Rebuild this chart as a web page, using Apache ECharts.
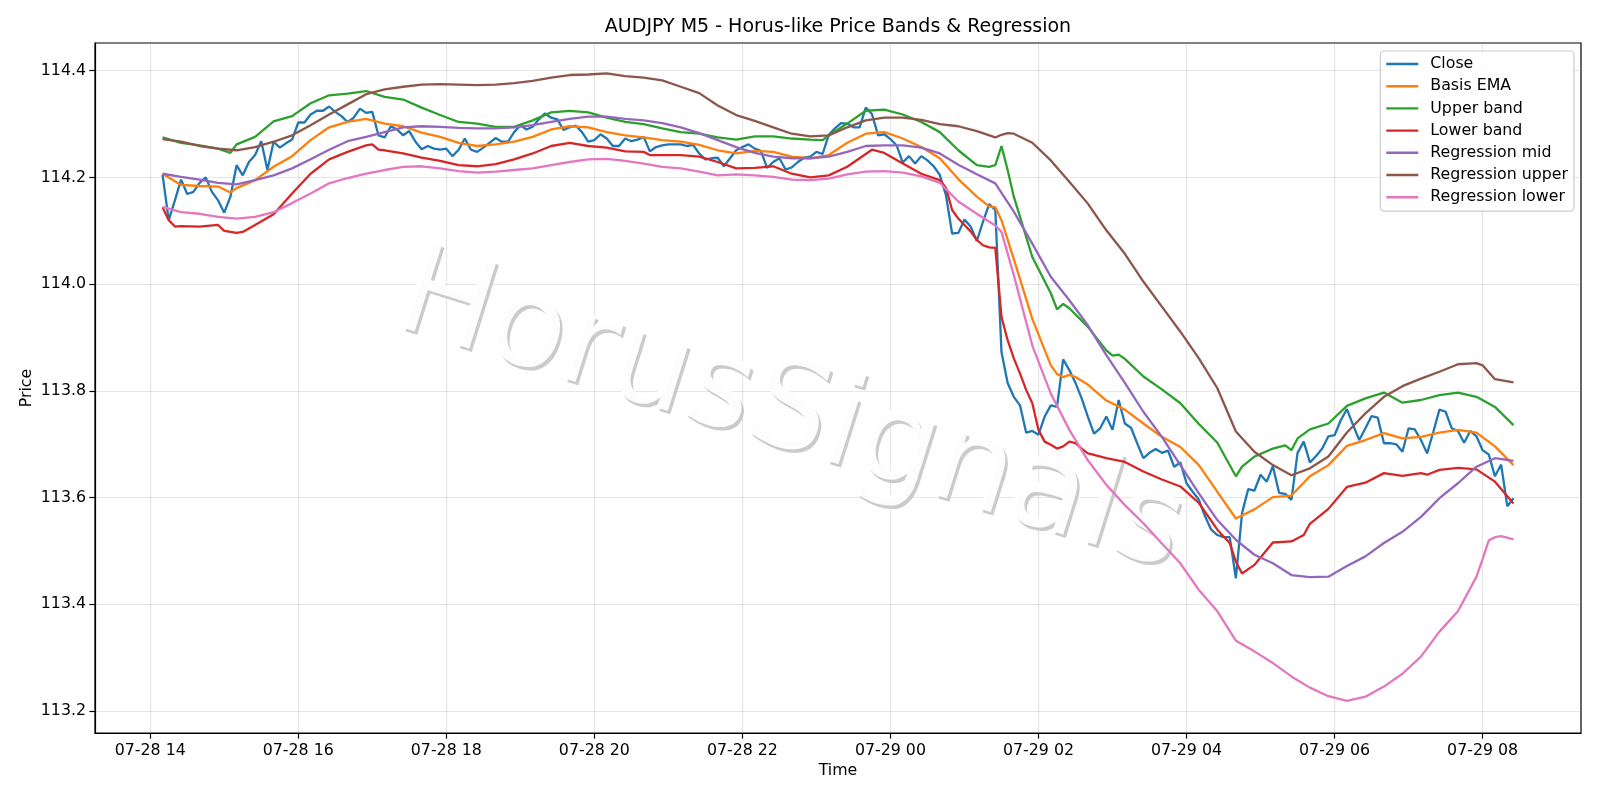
<!DOCTYPE html>
<html>
<head>
<meta charset="utf-8">
<script src="https://cdn.jsdelivr.net/npm/echarts@6/dist/echarts.min.js"></script>
<style>
html,body{margin:0;padding:0;background:#fff;}
#chart{width:1600px;height:800px;}
</style>
</head>
<body>
<div id="chart"></div>
<script>
// ---- time: 5-minute steps starting 07-28 14:10 (hours since 07-28 00:00) ----
const startHour = 14 + 10 / 60;
const stepHours = 5 / 60;

// ---- tick labels ----
const tickHours = [14, 16, 18, 20, 22, 24, 26, 28, 30, 32];
const tickLabels = ['07-28 14', '07-28 16', '07-28 18', '07-28 20', '07-28 22',
                    '07-29 00', '07-29 02', '07-29 04', '07-29 06', '07-29 08'];
const priceTicks = [113.2, 113.4, 113.6, 113.8, 114.0, 114.2, 114.4];

const seriesNames = ['Close', 'Basis EMA', 'Upper band', 'Lower band',
                     'Regression mid', 'Regression upper', 'Regression lower'];

// ---- Close: one value per 5-minute step ----
const closeValues = [
  114.205, 114.120, 114.157, 114.196, 114.169, 114.173, 114.190, 114.200, 114.173, 114.157,
  114.134, 114.164, 114.223, 114.204, 114.229, 114.242, 114.268, 114.214, 114.267, 114.256,
  114.264, 114.271, 114.303, 114.303, 114.318, 114.325, 114.325, 114.333, 114.323, 114.315,
  114.304, 114.312, 114.329, 114.321, 114.323, 114.279, 114.275, 114.296, 114.290, 114.279,
  114.287, 114.267, 114.253, 114.259, 114.254, 114.252, 114.254, 114.240, 114.252, 114.273,
  114.252, 114.248, 114.256, 114.265, 114.274, 114.267, 114.267, 114.285, 114.298, 114.290,
  114.295, 114.309, 114.320, 114.312, 114.309, 114.289, 114.294, 114.297, 114.285, 114.267,
  114.270, 114.281, 114.273, 114.259, 114.259, 114.273, 114.268, 114.271, 114.276, 114.249,
  114.257, 114.260, 114.262, 114.262, 114.262, 114.259, 114.261, 114.245, 114.234, 114.236,
  114.237, 114.221, 114.236, 114.251, 114.257, 114.262, 114.254, 114.250, 114.218, 114.229,
  114.236, 114.215, 114.219, 114.229, 114.237, 114.239, 114.248, 114.244, 114.280, 114.292,
  114.302, 114.301, 114.294, 114.294, 114.331, 114.319, 114.279, 114.281, 114.272, 114.260,
  114.228, 114.240, 114.226, 114.240, 114.232, 114.221, 114.205, 114.167, 114.095, 114.096,
  114.121, 114.108, 114.081, 114.117, 114.150, 114.139, 113.873, 113.815, 113.789, 113.773,
  113.722, 113.725, 113.718, 113.752, 113.773, 113.770, 113.859, 113.839, 113.815, 113.786,
  113.752, 113.720, 113.730, 113.752, 113.727, 113.783, 113.739, 113.731, 113.702, 113.674,
  113.684, 113.691, 113.684, 113.688, 113.658, 113.666, 113.627, 113.611, 113.596, 113.565,
  113.540, 113.530, 113.526, 113.526, 113.449, 113.571, 113.616, 113.613, 113.643, 113.630,
  113.659, 113.609, 113.607, 113.596, 113.684, 113.705, 113.666, 113.678, 113.692, 113.715,
  113.717, 113.745, 113.766, 113.736, 113.708, 113.730, 113.753, 113.750, 113.702, 113.702,
  113.700, 113.686, 113.730, 113.728, 113.708, 113.683, 113.723, 113.765, 113.761, 113.730,
  113.725, 113.703, 113.725, 113.715, 113.689, 113.681, 113.640, 113.662, 113.584, 113.599
];

// ---- smooth series, read as [step index, value] ----
const basisEma = [
  [0,114.207],[3,114.186],[6,114.184],[9,114.183],[11,114.172],[12,114.180],[15,114.195],
  [18,114.220],[21,114.240],[24,114.270],[27,114.294],[30,114.304],[33,114.310],[36,114.301],
  [39,114.296],[42,114.284],[45,114.276],[48,114.265],[51,114.259],[54,114.262],[57,114.267],
  [60,114.276],[63,114.290],[66,114.296],[69,114.294],[72,114.285],[75,114.279],[78,114.275],
  [81,114.270],[84,114.267],[87,114.261],[90,114.251],[93,114.245],[96,114.250],[99,114.248],
  [102,114.239],[105,114.236],[108,114.242],[111,114.265],[114,114.282],[117,114.285],
  [120,114.273],[123,114.257],[126,114.236],[129,114.197],[132,114.164],[134,114.146],
  [135,114.144],[136,114.120],[138,114.047],[141,113.935],[144,113.848],[145,113.832],
  [146,113.826],[147,113.830],[148,113.826],[150,113.812],[153,113.782],[156,113.765],
  [159,113.739],[162,113.714],[165,113.695],[168,113.661],[171,113.611],[174,113.561],
  [177,113.578],[180,113.601],[183,113.604],[186,113.640],[189,113.661],[192,113.697],
  [195,113.708],[198,113.721],[201,113.711],[204,113.714],[207,113.722],[210,113.727],
  [213,113.722],[216,113.696],[219,113.661]
];

const upperBand = [
  [0,114.275],[3,114.265],[6,114.260],[9,114.254],[11,114.246],[12,114.262],[15,114.276],
  [18,114.305],[21,114.315],[24,114.339],[27,114.354],[30,114.357],[33,114.362],[36,114.351],
  [39,114.346],[42,114.331],[45,114.317],[48,114.304],[51,114.301],[54,114.295],[57,114.295],
  [60,114.307],[63,114.322],[66,114.325],[69,114.322],[72,114.312],[75,114.304],[78,114.300],
  [81,114.292],[84,114.285],[87,114.282],[90,114.275],[93,114.271],[96,114.277],[99,114.277],
  [102,114.273],[105,114.271],[107,114.270],[108,114.279],[111,114.301],[114,114.325],
  [117,114.327],[120,114.318],[123,114.304],[126,114.285],[129,114.251],[132,114.223],
  [134,114.220],[135,114.223],[136,114.259],[137,114.214],[138,114.164],[141,114.051],
  [144,113.983],[145,113.953],[146,113.963],[147,113.955],[150,113.920],[153,113.876],
  [154,113.866],[155,113.868],[156,113.860],[159,113.827],[162,113.803],[165,113.777],
  [168,113.738],[171,113.703],[174,113.640],[175,113.658],[177,113.677],[180,113.692],
  [182,113.698],[183,113.689],[184,113.711],[186,113.728],[189,113.739],[192,113.772],
  [195,113.786],[198,113.797],[201,113.778],[204,113.783],[207,113.792],[210,113.797],
  [213,113.789],[216,113.770],[219,113.736]
];

const lowerBand = [
  [0,114.144],[1,114.120],[2,114.108],[3,114.109],[6,114.108],[9,114.111],[10,114.100],
  [11,114.098],[12,114.096],[13,114.098],[15,114.111],[18,114.131],[21,114.170],[24,114.207],
  [27,114.234],[30,114.248],[33,114.260],[34,114.262],[35,114.252],[36,114.251],[39,114.245],
  [42,114.237],[45,114.231],[48,114.223],[51,114.221],[54,114.225],[57,114.234],[60,114.245],
  [63,114.259],[66,114.265],[69,114.259],[72,114.256],[75,114.249],[78,114.248],[79,114.242],
  [81,114.242],[84,114.242],[87,114.239],[90,114.229],[93,114.217],[96,114.218],[99,114.221],
  [102,114.207],[105,114.200],[108,114.204],[111,114.220],[114,114.244],[115,114.252],
  [117,114.246],[120,114.226],[123,114.207],[126,114.195],[127,114.181],[128,114.139],
  [129,114.123],[130,114.111],[131,114.099],[132,114.083],[133,114.073],[134,114.069],
  [135,114.068],[136,113.939],[137,113.895],[138,113.861],[139,113.833],[140,113.802],
  [141,113.777],[142,113.727],[143,113.705],[144,113.699],[145,113.692],[146,113.696],
  [147,113.705],[148,113.702],[149,113.692],[150,113.683],[151,113.680],[153,113.674],
  [156,113.667],[159,113.649],[162,113.634],[165,113.621],[168,113.590],[171,113.540],
  [173,113.515],[174,113.480],[175,113.458],[177,113.474],[180,113.516],[183,113.518],
  [185,113.530],[186,113.551],[189,113.579],[192,113.620],[195,113.628],[198,113.646],
  [201,113.641],[204,113.646],[205,113.643],[207,113.652],[210,113.656],[213,113.653],
  [216,113.630],[219,113.589]
];

const regressionMid = [
  [0,114.207],[3,114.201],[6,114.196],[9,114.190],[12,114.187],[15,114.195],[18,114.204],
  [21,114.217],[24,114.234],[27,114.252],[30,114.268],[33,114.276],[36,114.285],[39,114.294],
  [42,114.296],[45,114.295],[48,114.293],[51,114.292],[54,114.292],[57,114.294],[60,114.298],
  [63,114.304],[66,114.310],[69,114.314],[72,114.314],[75,114.310],[78,114.307],[81,114.302],
  [84,114.294],[87,114.283],[90,114.270],[93,114.257],[96,114.246],[99,114.239],[102,114.236],
  [105,114.236],[108,114.239],[111,114.248],[114,114.259],[117,114.260],[120,114.260],
  [123,114.256],[126,114.245],[129,114.224],[132,114.206],[135,114.189],[138,114.136],
  [141,114.076],[144,114.014],[147,113.970],[150,113.923],[153,113.867],[156,113.815],
  [159,113.761],[162,113.714],[165,113.661],[168,113.608],[171,113.558],[174,113.521],
  [177,113.493],[180,113.477],[183,113.455],[186,113.451],[189,113.452],[192,113.472],
  [195,113.490],[198,113.515],[201,113.536],[204,113.564],[207,113.599],[210,113.627],
  [213,113.658],[216,113.674],[219,113.669]
];

const regressionUpper = [
  [0,114.272],[3,114.267],[6,114.259],[9,114.254],[12,114.251],[15,114.257],[18,114.267],
  [21,114.279],[24,114.298],[27,114.318],[30,114.337],[33,114.356],[36,114.365],[39,114.370],
  [42,114.374],[45,114.375],[48,114.374],[51,114.373],[54,114.374],[57,114.377],[60,114.381],
  [63,114.387],[66,114.392],[69,114.393],[72,114.395],[75,114.390],[78,114.387],[81,114.382],
  [84,114.370],[87,114.358],[90,114.335],[93,114.317],[96,114.306],[99,114.294],[102,114.282],
  [105,114.277],[108,114.279],[111,114.294],[114,114.307],[117,114.312],[120,114.312],
  [123,114.308],[126,114.300],[129,114.296],[132,114.287],[135,114.275],[136,114.280],
  [137,114.283],[138,114.282],[141,114.265],[144,114.232],[147,114.192],[150,114.151],
  [153,114.101],[156,114.057],[159,114.005],[162,113.958],[165,113.911],[168,113.861],
  [171,113.805],[174,113.724],[177,113.686],[180,113.661],[183,113.642],[186,113.655],
  [189,113.677],[192,113.722],[195,113.758],[198,113.789],[201,113.809],[204,113.823],
  [207,113.836],[210,113.850],[213,113.852],[214,113.848],[215,113.835],[216,113.822],
  [219,113.816]
];

const regressionLower = [
  [0,114.145],[3,114.135],[6,114.132],[9,114.126],[12,114.123],[15,114.126],[18,114.135],
  [21,114.152],[24,114.170],[27,114.189],[30,114.199],[33,114.207],[36,114.214],[39,114.220],
  [42,114.221],[45,114.217],[48,114.212],[51,114.209],[54,114.211],[57,114.214],[60,114.217],
  [63,114.223],[66,114.229],[69,114.234],[72,114.235],[75,114.231],[78,114.226],[81,114.220],
  [84,114.217],[87,114.211],[90,114.204],[93,114.206],[96,114.204],[99,114.201],[102,114.196],
  [105,114.195],[108,114.198],[111,114.206],[114,114.211],[117,114.212],[120,114.209],
  [123,114.202],[126,114.190],[129,114.155],[132,114.132],[135,114.110],[136,114.098],
  [138,114.017],[141,113.885],[144,113.795],[147,113.727],[150,113.670],[153,113.624],
  [156,113.586],[159,113.552],[162,113.514],[165,113.477],[168,113.427],[171,113.387],
  [174,113.332],[177,113.312],[180,113.290],[183,113.265],[186,113.244],[189,113.228],
  [192,113.219],[195,113.227],[198,113.246],[201,113.270],[204,113.302],[207,113.349],
  [210,113.387],[213,113.452],[214,113.485],[215,113.520],[216,113.526],[217,113.528],
  [219,113.522]
];

const colors = ['#1f77b4', '#ff7f0e', '#2ca02c', '#d62728', '#9467bd', '#8c564b', '#e377c2'];

function hourOf(i) { return startHour + i * stepHours; }
const closePoints = closeValues.map((v, i) => [hourOf(i), v]);
const toPoints = arr => arr.map(p => [hourOf(p[0]), p[1]]);
const seriesData = [closePoints, toPoints(basisEma), toPoints(upperBand), toPoints(lowerBand),
                    toPoints(regressionMid), toPoints(regressionUpper), toPoints(regressionLower)];

const FONT = 'DejaVu Sans';
const chart = echarts.init(document.getElementById('chart'), null, {renderer: 'canvas'});
const wmRot = -17.4 * Math.PI / 180;

const option = {
  animation: false,
  backgroundColor: '#ffffff',
  grid: {left: 95, right: 19, top: 43, bottom: 67, show: true, borderColor: '#000', borderWidth: 1.2,
         backgroundColor: 'transparent'},
  xAxis: {
    type: 'value', min: 13.254, max: 33.329,
    axisLine: {show: true, onZero: false, lineStyle: {color: '#000', width: 1.2}},
    axisTick: {show: true, customValues: tickHours, length: 5.6, lineStyle: {color: '#000', width: 1.2}},
    axisLabel: {customValues: tickHours, margin: 10, color: '#000', fontSize: 15.8, fontFamily: FONT,
                formatter: v => tickLabels[tickHours.indexOf(Math.round(v))] || ''},
    splitLine: {show: true, lineStyle: {color: 'rgba(176,176,176,0.32)', width: 1.2}},
    name: 'Time', nameLocation: 'middle', nameGap: 30, nameMoveOverlap: false,
    nameTextStyle: {color: '#000', fontSize: 15.8, fontFamily: FONT}
  },
  yAxis: {
    type: 'value', min: 113.159, max: 114.452,
    axisLine: {show: true, onZero: false, lineStyle: {color: '#000', width: 1.2}},
    axisTick: {show: true, customValues: priceTicks, length: 5.6, lineStyle: {color: '#000', width: 1.2}},
    axisLabel: {customValues: priceTicks, margin: 9, color: '#000', fontSize: 15.8, fontFamily: FONT,
                formatter: v => v.toFixed(1)},
    splitLine: {show: true, lineStyle: {color: 'rgba(176,176,176,0.32)', width: 1.2}},
    name: 'Price', nameLocation: 'middle', nameGap: 60, nameRotate: 90, nameMoveOverlap: false,
    nameTextStyle: {color: '#000', fontSize: 15.8, fontFamily: FONT}
  },
  legend: {
    orient: 'vertical', right: 26, top: 51,
    data: seriesNames, icon: 'rect', itemWidth: 32, itemHeight: 2.4, itemGap: 6.2,
    textStyle: {fontFamily: FONT, fontSize: 15.8, color: '#000', lineHeight: 15, padding: [0, 0, 0, 7]},
    backgroundColor: 'rgba(255,255,255,0.85)', borderColor: '#cccccc', borderWidth: 1.2, borderRadius: 4,
    padding: [5, 6, 6, 6]
  },
  graphic: [
    {type: 'text', x: 792.5, y: 418.5, rotation: wmRot, z: 1, silent: true,
     style: {text: 'HorusSignals', fontSize: 125, fontFamily: FONT, fill: '#cbcbcb',
             align: 'center', verticalAlign: 'middle'}},
    {type: 'text', x: 790, y: 415, rotation: wmRot, z: 1, silent: true,
     style: {text: 'HorusSignals', fontSize: 125, fontFamily: FONT, fill: 'rgba(255,255,255,0.95)',
             align: 'center', verticalAlign: 'middle'}},
    {type: 'text', x: 838, y: 27, z: 5, silent: true,
     style: {text: 'AUDJPY M5 - Horus-like Price Bands & Regression', fontSize: 19, fontFamily: FONT,
             fill: '#000', align: 'center', verticalAlign: 'middle'}}
  ],
  series: seriesNames.map((name, k) => ({
    name: name, type: 'line', data: seriesData[k], showSymbol: false, symbol: 'none',
    color: colors[k], lineStyle: {color: colors[k], width: 2.3}, z: 3 + k * 0.01
  }))
};
chart.setOption(option);
</script>
</body>
</html>
